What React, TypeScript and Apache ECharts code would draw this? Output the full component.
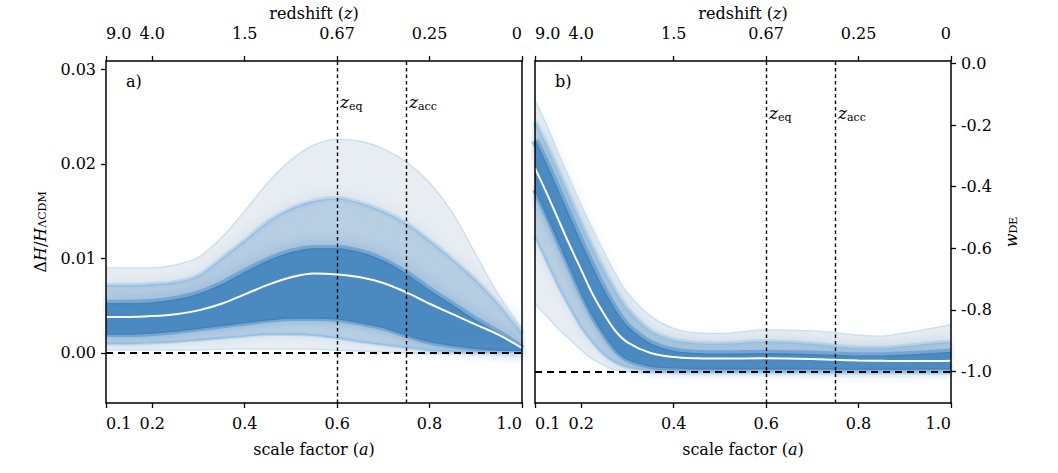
import React, { useEffect, useRef } from "react";
import * as echarts from "echarts";

// ---------- shared axis data ----------
const SCALE_TICKS = [0.1, 0.2, 0.4, 0.6, 0.8, 1.0];
const REDSHIFT_LABELS = ["9.0", "4.0", "1.5", "0.67", "0.25", "0"];
const A_EQ = 0.6;
const A_ACC = 0.75;

// ---------- panel a) : Delta H / H_LCDM ----------
const A_H = [0.1, 0.15, 0.2, 0.25, 0.3, 0.35, 0.4, 0.45, 0.5, 0.55, 0.6, 0.65, 0.7, 0.75, 0.8, 0.85, 0.9, 0.95, 1.0];
const DH_UPPER_OUTER = [0.009, 0.009, 0.009, 0.0093, 0.0101, 0.0122, 0.015, 0.018, 0.0204, 0.022, 0.0226, 0.0224, 0.0216, 0.0202, 0.018, 0.0148, 0.0104, 0.0061, 0.0026];
const DH_UPPER_MID = [0.0071, 0.0071, 0.0072, 0.0074, 0.0081, 0.0099, 0.0118, 0.0138, 0.0152, 0.016, 0.0163, 0.0158, 0.0149, 0.0136, 0.0118, 0.0098, 0.0076, 0.005, 0.002];
const DH_UPPER_INNER = [0.0052, 0.0052, 0.0053, 0.0056, 0.0062, 0.0072, 0.0085, 0.0097, 0.0106, 0.011, 0.011, 0.0106, 0.0097, 0.0083, 0.0066, 0.005, 0.0034, 0.002, 0.0004];
const DH_MEDIAN = [0.0038, 0.0038, 0.0039, 0.0041, 0.0045, 0.0052, 0.0062, 0.0072, 0.008, 0.0084, 0.0083, 0.008, 0.0074, 0.0064, 0.0052, 0.0041, 0.003, 0.0019, 0.0005];
const DH_LOWER_INNER = [0.002, 0.002, 0.0021, 0.0023, 0.0026, 0.0029, 0.0032, 0.0035, 0.0037, 0.0037, 0.0036, 0.0032, 0.0027, 0.0019, 0.0012, 0.0008, 0.0005, 0.0003, 0.0002];
const DH_LOWER_MID = [0.001, 0.001, 0.0011, 0.0012, 0.0014, 0.0016, 0.0018, 0.002, 0.002, 0.0019, 0.0016, 0.0012, 0.0009, 0.0006, 0.0003, 0.0002, 0.0001, 0.0001, 0.0001];
const DH_LOWER_OUTER = [0.0003, 0.0003, 0.0003, 0.0003, 0.0003, 0.0004, 0.0004, 0.0004, 0.0004, 0.0004, 0.0003, 0.0002, 0.0001, 0.0, -0.0001, -0.0001, -0.0001, -0.0001, 0.0];
const DH_TICKS = [0.0, 0.01, 0.02, 0.03];

// ---------- panel b) : w_DE ----------
const A_W = [0.1, 0.125, 0.15, 0.175, 0.2, 0.225, 0.25, 0.275, 0.3, 0.35, 0.4, 0.45, 0.5, 0.6, 0.7, 0.75, 0.8, 0.85, 0.9, 0.95, 1.0];
const W_UPPER_OUTER = [-0.12, -0.2, -0.29, -0.375, -0.46, -0.54, -0.615, -0.685, -0.745, -0.82, -0.86, -0.875, -0.877, -0.865, -0.868, -0.874, -0.882, -0.885, -0.875, -0.862, -0.848];
const W_UPPER_MID = [-0.19, -0.27, -0.355, -0.44, -0.525, -0.605, -0.68, -0.745, -0.8, -0.87, -0.9, -0.91, -0.912, -0.905, -0.912, -0.92, -0.926, -0.927, -0.92, -0.912, -0.905];
const W_UPPER_INNER = [-0.25, -0.33, -0.415, -0.5, -0.585, -0.665, -0.74, -0.805, -0.855, -0.91, -0.935, -0.942, -0.944, -0.942, -0.945, -0.948, -0.95, -0.95, -0.947, -0.943, -0.938];
const W_MEDIAN = [-0.34, -0.42, -0.505, -0.59, -0.67, -0.75, -0.815, -0.87, -0.905, -0.94, -0.953, -0.957, -0.958, -0.957, -0.959, -0.962, -0.964, -0.965, -0.966, -0.966, -0.965];
const W_LOWER_INNER = [-0.41, -0.49, -0.575, -0.66, -0.745, -0.82, -0.88, -0.93, -0.96, -0.982, -0.988, -0.99, -0.99, -0.99, -0.99, -0.991, -0.992, -0.992, -0.992, -0.991, -0.99];
const W_LOWER_MID = [-0.56, -0.64, -0.72, -0.79, -0.855, -0.905, -0.945, -0.97, -0.985, -0.996, -0.999, -1.0, -1.0, -1.0, -1.0, -1.0, -1.0, -1.0, -1.0, -1.0, -1.0];
const W_LOWER_OUTER = [-0.78, -0.82, -0.86, -0.895, -0.93, -0.96, -0.98, -0.995, -1.0, -1.005, -1.007, -1.008, -1.008, -1.008, -1.008, -1.009, -1.009, -1.009, -1.009, -1.009, -1.009];
const W_TICKS = [-1.0, -0.8, -0.6, -0.4, -0.2, 0.0];

// ---------- styling ----------
const FONT = "'DejaVu Serif', 'Liberation Serif', serif";
const FS = 16;
const FILL_OUTER = "#e8edf2";
const FILL_MID = "#b9cfe3";
const FILL_INNER = "#4a8ac1";
const LINE_OUTER = "#c9dff1";
const LINE_MID = "#8ec0e7";
const LINE_INNER = "#3f82bd";

const GRID_TOP = 55;
const GRID_H = 348;
const GRID_W = 416;
const LEFT_X = 106;
const RIGHT_X = 535;

const pts = (xs: number[], ys: number[]) => xs.map((x, i) => [x, ys[i]]);

const rich = {
  r: { fontFamily: FONT, fontSize: FS, color: "#000" },
  i: { fontFamily: FONT, fontSize: FS, fontStyle: "italic", color: "#000" },
  s: { fontFamily: FONT, fontSize: 11, color: "#000", verticalAlign: "bottom", lineHeight: 9 },
};

type Curves = { uo: number[]; um: number[]; ui: number[]; med: number[]; li: number[]; lm: number[]; lo: number[] };

function bandSeries(gi: number, xs: number[], c: Curves, refY: number) {
  const base = {
    type: "line",
    xAxisIndex: gi * 2,
    yAxisIndex: gi * 2,
    showSymbol: false,
    smooth: 0.35,
    silent: true,
  };
  // fills are painted top-down: each lower curve masks everything beneath it
  const fill = (ys: number[], color: string) => ({
    ...base,
    data: pts(xs, ys),
    lineStyle: { width: 0, opacity: 0 },
    areaStyle: { color, opacity: 1, origin: "start" },
  });
  // soft halo that lets a darker interval fade into the lighter one next to it
  const glow = (ys: number[], color: string, width: number, blur: number) => ({
    ...base,
    data: pts(xs, ys),
    lineStyle: { width, color, opacity: 0.5, shadowBlur: blur, shadowColor: color },
  });
  const line = (ys: number[], color: string, width = 1.4) => ({
    ...base,
    data: pts(xs, ys),
    lineStyle: { width, color },
  });
  return [
    fill(c.uo, FILL_OUTER),
    fill(c.um, FILL_MID),
    fill(c.ui, FILL_INNER),
    fill(c.li, FILL_MID),
    fill(c.lm, FILL_OUTER),
    fill(c.lo, "#ffffff"),
    glow(c.um, "#a9c6e0", 6, 14),
    glow(c.lm, "#a9c6e0", 4, 8),
    glow(c.ui, FILL_INNER, 8, 16),
    glow(c.li, FILL_INNER, 6, 10),
    line(c.uo, LINE_OUTER),
    line(c.um, LINE_MID),
    line(c.ui, LINE_INNER),
    line(c.li, LINE_INNER),
    line(c.lm, LINE_MID),
    line(c.lo, LINE_OUTER),
    {
      ...line(c.med, "#ffffff", 2),
      markLine: {
        silent: true,
        symbol: "none",
        label: { show: false },
        data: [
          { yAxis: refY, lineStyle: { color: "#000", width: 1.8, type: [7, 5] } },
          { xAxis: A_EQ, lineStyle: { color: "#000", width: 1.4, type: [3.5, 3] } },
          { xAxis: A_ACC, lineStyle: { color: "#000", width: 1.4, type: [3.5, 3] } },
        ],
      },
    },
  ];
}

function xAxes(gi: number) {
  const common = {
    type: "value",
    gridIndex: gi,
    min: 0.1,
    max: 1.0,
    z: 10,
    splitLine: { show: false },
    axisLine: { show: true, onZero: false, lineStyle: { color: "#000", width: 1.5 } },
    axisTick: { show: true, customValues: SCALE_TICKS, length: 5, lineStyle: { color: "#000", width: 1.3 } },
    nameLocation: "middle",
    nameTextStyle: { rich },
  };
  return [
    {
      ...common,
      position: "bottom",
      axisLabel: {
        customValues: SCALE_TICKS,
        formatter: (v: number) => v.toFixed(1),
        fontFamily: FONT,
        fontSize: FS,
        color: "#000",
        margin: 12,
        alignMinLabel: "left",
        alignMaxLabel: "right",
      },
      name: "{r|scale factor (}{i|a}{r|)}",
      nameGap: 38,
    },
    {
      ...common,
      position: "top",
      axisLabel: {
        customValues: SCALE_TICKS,
        formatter: (v: number) => {
          const k = SCALE_TICKS.findIndex((t) => Math.abs(t - v) < 1e-6);
          return k >= 0 ? REDSHIFT_LABELS[k] : "";
        },
        fontFamily: FONT,
        fontSize: FS,
        color: "#000",
        margin: 19,
        alignMinLabel: "left",
        alignMaxLabel: "right",
      },
      name: "{r|redshift (}{i|z}{r|)}",
      nameGap: 39,
    },
  ];
}

function yAxes(gi: number, min: number, max: number, ticks: number[], side: "left" | "right", fmt: (v: number) => string, name: string) {
  const other = side === "left" ? "right" : "left";
  return [
    {
      type: "value",
      gridIndex: gi,
      min,
      max,
      z: 10,
      position: side,
      splitLine: { show: false },
      axisLine: { show: true, onZero: false, lineStyle: { color: "#000", width: 1.5 } },
      axisTick: { show: true, customValues: ticks, length: 5, lineStyle: { color: "#000", width: 1.3 } },
      axisLabel: { customValues: ticks, formatter: fmt, fontFamily: FONT, fontSize: FS, color: "#000", margin: 10 },
      name,
      nameLocation: "middle",
      nameRotate: 90,
      nameGap: side === "left" ? 58 : 52,
      nameTextStyle: { rich },
    },
    {
      type: "value",
      gridIndex: gi,
      min,
      max,
      z: 10,
      position: other,
      splitLine: { show: false },
      axisLine: { show: true, onZero: false, lineStyle: { color: "#000", width: 1.5 } },
      axisTick: { show: false },
      axisLabel: { show: false },
    },
  ];
}

function annotation(x: number, y: number, sub: string) {
  return {
    type: "text",
    x,
    y,
    z: 20,
    style: {
      text: `{z|z}{s|${sub}}`,
      rich: {
        z: { fontFamily: FONT, fontSize: FS + 1, fontStyle: "italic", color: "#000", lineHeight: 20 },
        s: { fontFamily: FONT, fontSize: 11, color: "#000", verticalAlign: "bottom", lineHeight: 10 },
      },
    },
  };
}

function panelLabel(x: number, y: number, text: string) {
  return { type: "text", x, y, z: 20, style: { text, fontFamily: FONT, fontSize: FS, fill: "#000" } };
}

export default function App() {
  const ref = useRef<HTMLDivElement>(null);

  useEffect(() => {
    if (!ref.current) return;
    const chart = echarts.init(ref.current, undefined, { renderer: "svg" });

    const hY = [-0.0053, 0.0309];
    const wY = [-1.102, 0.008];

    chart.setOption({
      animation: false,
      backgroundColor: "#ffffff",
      textStyle: { fontFamily: FONT },
      grid: [
        { left: LEFT_X, top: GRID_TOP, width: GRID_W, height: GRID_H },
        { left: RIGHT_X, top: GRID_TOP, width: GRID_W, height: GRID_H },
      ],
      xAxis: [...xAxes(0), ...xAxes(1)],
      yAxis: [
        ...yAxes(0, hY[0], hY[1], DH_TICKS, "left", (v) => v.toFixed(2), "{r|Δ}{i|H}{r|/}{i|H}{s|ΛCDM}"),
        ...yAxes(1, wY[0], wY[1], W_TICKS, "right", (v) => v.toFixed(1), "{i|w}{s|DE}"),
      ],
      series: [
        ...bandSeries(0, A_H, {
          uo: DH_UPPER_OUTER,
          um: DH_UPPER_MID,
          ui: DH_UPPER_INNER,
          med: DH_MEDIAN,
          li: DH_LOWER_INNER,
          lm: DH_LOWER_MID,
          lo: DH_LOWER_OUTER,
        }, 0),
        ...bandSeries(1, A_W, {
          uo: W_UPPER_OUTER,
          um: W_UPPER_MID,
          ui: W_UPPER_INNER,
          med: W_MEDIAN,
          li: W_LOWER_INNER,
          lm: W_LOWER_MID,
          lo: W_LOWER_OUTER,
        }, -1),
      ],
      graphic: [
        panelLabel(126, 73, "a)"),
        panelLabel(555, 73, "b)"),
        annotation(340, 92, "eq"),
        annotation(409, 92, "acc"),
        annotation(769, 103, "eq"),
        annotation(838, 103, "acc"),
      ],
    });

    return () => chart.dispose();
  }, []);

  return <div ref={ref} style={{ position: "fixed", left: 0, top: 0, width: 1058, height: 473 }} />;
}
